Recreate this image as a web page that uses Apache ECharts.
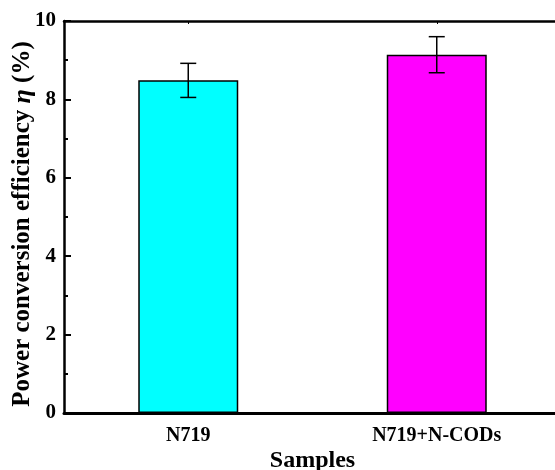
<!DOCTYPE html>
<html>
<head>
<meta charset="utf-8">
<script src="https://cdn.jsdelivr.net/npm/echarts@6/dist/echarts.min.js"></script>
<style>
  html, body { margin: 0; padding: 0; background: #fff; }
  #main { width: 555px; height: 470px; }
</style>
</head>
<body>
<div id="main"></div>
<script>
var samples = ['N719', 'N719+N-CODs'];
var efficiency = [8.49, 9.14];
var errLow = [8.05, 8.68];
var errHigh = [8.92, 9.60];
var barColors = ['#00ffff', '#ff00ff'];

var chartDom = document.getElementById('main');
var myChart = echarts.init(chartDom);
var font = 'Liberation Serif, Times New Roman, serif';

var errData = samples.map(function (s, i) {
    return [i, errLow[i], errHigh[i]];
});

var option = {
    animation: false,
    grid: {
        left: 64,
        right: -6,
        top: 21,
        bottom: 57,
        containLabel: false,
        outerBoundsMode: 'none'
    },
    xAxis: [{
        type: 'category',
        data: samples,
        name: 'Samples',
        nameLocation: 'middle',
        nameGap: 36,
        nameMoveOverlap: false,
        nameTextStyle: { fontFamily: font, fontWeight: 'bold', fontSize: 24, color: '#000' },
        axisLine: { lineStyle: { color: '#000', width: 3 } },
        axisTick: { show: true, inside: true, alignWithLabel: true, length: 4, lineStyle: { color: '#000', width: 1.5 } },
        axisLabel: { fontFamily: font, fontWeight: 'bold', fontSize: 20, color: '#000', margin: 13 }
    }, {
        type: 'category',
        data: samples,
        position: 'top',
        axisLine: { lineStyle: { color: '#000', width: 2.5 } },
        axisTick: { show: true, inside: true, alignWithLabel: true, length: 3, lineStyle: { color: '#000', width: 1 } },
        axisLabel: { show: false }
    }],
    yAxis: {
        type: 'value',
        min: 0,
        max: 10,
        interval: 2,
        name: '{a|Power conversion efficiency }{b|η}{a| (%)}',
        nameLocation: 'middle',
        nameGap: 28,
        nameMoveOverlap: false,
        nameTextStyle: {
            padding: [0, 14, 0, 0],
            rich: {
                a: { fontFamily: font, fontWeight: 'bold', fontSize: 25, color: '#000' },
                b: { fontFamily: font, fontWeight: 'bold', fontStyle: 'italic', fontSize: 26, color: '#000' }
            }
        },
        axisLine: { show: true, lineStyle: { color: '#000', width: 2.5 } },
        axisTick: { show: true, inside: true, length: 7, lineStyle: { color: '#000', width: 2 } },
        minorTick: { show: true, splitNumber: 2, length: 4, lineStyle: { color: '#000', width: 2 } },
        splitLine: { show: false },
        axisLabel: { fontFamily: font, fontWeight: 'bold', fontSize: 21, color: '#000', margin: 8 }
    },
    series: [{
        type: 'bar',
        data: efficiency.map(function (v, i) {
            return { value: v, itemStyle: { color: barColors[i] } };
        }),
        barWidth: 100,
        itemStyle: { borderColor: '#000', borderWidth: 1.5 },
        z: 2
    }, {
        type: 'custom',
        data: errData,
        z: 5,
        renderItem: function (params, api) {
            var x = api.value(0);
            var lo = api.coord([x, api.value(1)]);
            var hi = api.coord([x, api.value(2)]);
            var hw = 8;
            var st = { stroke: '#000', lineWidth: 1.5 };
            return {
                type: 'group',
                children: [
                    { type: 'line', shape: { x1: hi[0], y1: hi[1], x2: lo[0], y2: lo[1] }, style: st },
                    { type: 'line', shape: { x1: hi[0] - hw, y1: hi[1], x2: hi[0] + hw, y2: hi[1] }, style: st },
                    { type: 'line', shape: { x1: lo[0] - hw, y1: lo[1], x2: lo[0] + hw, y2: lo[1] }, style: st }
                ]
            };
        }
    }]
};

option && myChart.setOption(option);
</script>
</body>
</html>
